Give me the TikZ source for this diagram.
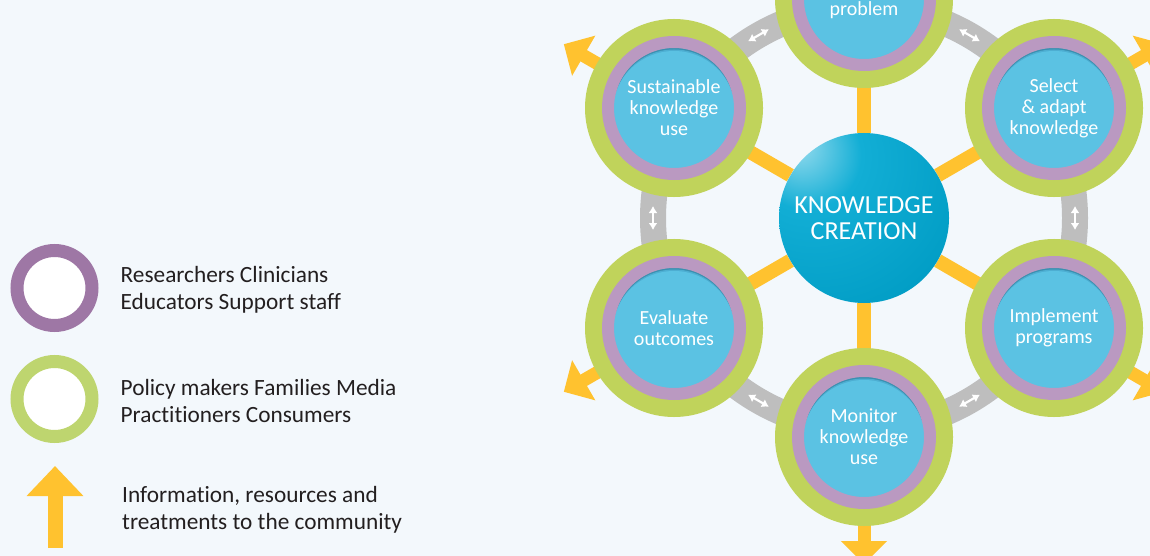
\documentclass[tikz,border=0pt]{standalone}
\usepackage{fontspec}
\setmainfont{Carlito}[Ligatures={NoCommon}]
\usetikzlibrary{calc,positioning,backgrounds,arrows.meta}
\definecolor{page}{HTML}{F3F8FC}
\definecolor{kgreen}{HTML}{C0D35B}
\definecolor{kpurple}{HTML}{BA99C1}
\definecolor{kblue}{HTML}{5BC2E3}
\definecolor{kshadow}{HTML}{3A90B0}
\definecolor{kshadowlt}{HTML}{4DAED2}
\definecolor{kyellow}{HTML}{FFC22F}
\definecolor{kgrey}{HTML}{BEBEBE}
\definecolor{lpurple}{HTML}{9E77A5}
\definecolor{lgreen}{HTML}{BED56F}
\definecolor{ltext}{HTML}{231F20}
\definecolor{kchi}{HTML}{9ADDEF}
\definecolor{kcmid}{HTML}{12AED5}
\definecolor{kclow}{HTML}{009CC4}
\definecolor{kcdark}{HTML}{006F8C}
\pgfdeclareradialshading{kcshade}{\pgfpoint{-20bp}{22bp}}{color(0bp)=(kchi); color(16bp)=(kcmid); color(45bp)=(kclow); color(75bp)=(kcdark); color(100bp)=(kcdark)}
\tikzset{
  stage/.style = {circle, minimum size = 132pt, inner sep = 0pt, fill = kblue, draw = kpurple, line width = 12pt,
    preaction = {draw = kgreen, line width = 46pt},
    path picture = {
      \fill[kshadow, draw = none] (path picture bounding box.south west) rectangle (path picture bounding box.north east);
      \fill[kshadowlt, draw = none] ([yshift=-2pt]path picture bounding box.center) circle (60.5pt);
      \fill[kblue, draw = none] ([yshift=-4.5pt]path picture bounding box.center) circle (61.5pt);
    },
    text = white, align = center, font = \fontsize{20}{21}\selectfont},
  core/.style = {circle, minimum size = 170pt, inner sep = 0pt, shading = kcshade,
    text = white, align = center, font = \fontsize{26}{26}\selectfont},
  ring/.style = {draw = kgrey, line width = 26pt},
  twoway/.style = {draw = white, line width = 2.2pt, {Latex[length=7pt,width=9pt]}-{Latex[length=7pt,width=9pt]}},
  spoke/.style = {draw = kyellow, line width = 14pt},
  outarrow/.style = {draw = kyellow, line width = 13pt, -{Triangle[width=45pt,length=23pt]}},
  legring/.style = {circle, draw = #1, line width = 13pt, fill = white, minimum size = 75pt, inner sep = 0pt},
  legarrow/.style = {draw = kyellow, line width = 15pt, -{Triangle[width=55pt,length=30pt]}},
  legtext/.style = {text = ltext, align = left, inner sep = 0pt, font = \fontsize{23.3}{27}\selectfont},
}
\begin{document}
\begin{tikzpicture}[x=1pt,y=-1pt]
  \useasboundingbox (0,0) rectangle (1150,556);
  \begin{scope}[on background layer]
    \fill[page] (0,0) rectangle (1150,556);
  \end{scope}
% cycle
  \node[core]  (kc)  at (864,218) {KNOWLEDGE\\CREATION};
  \node[stage] (prob) at (864,-1)  {\strut\\problem};
  \node[stage] (sel)  at (1054,108) {Select\\\& adapt\\knowledge};
  \node[stage] (imp)  at (1054,328) {Implement\\programs};
  \node[stage] (mon)  at (864,437) {Monitor\\knowledge\\use};
  \node[stage] (eva)  at (674,328) {Evaluate\\outcomes};
  \node[stage] (sus)  at (674,108) {Sustainable\\knowledge\\use};
  \foreach \s in {prob,sel,imp,mon,eva,sus}{
    \coordinate (\s-tip) at ($(kc)!1.58!(\s)$);
  }
  \begin{scope}[on background layer]
    \draw[ring] (kc.center) circle (211pt);
    \foreach \a in {0,60,...,300}{
      \draw[twoway] ($(kc)+({211*cos(\a)-12*sin(\a)},{-211*sin(\a)-12*cos(\a)})$)
        -- ($(kc)+({211*cos(\a)+12*sin(\a)},{-211*sin(\a)+12*cos(\a)})$);
    }
    \foreach \s in {prob,sel,imp,mon,eva,sus}{
      \draw[spoke] (kc) -- (\s);
      \draw[outarrow] (\s) -- (\s-tip);
    }
  \end{scope}
% legend
  \node[legring=lpurple] (lres) at (54.5,288) {};
  \node[legring=lgreen]  (lpol) at (54.5,399) {};
  \coordinate (lbot) at (55,548);
  \coordinate (ltop) at (55,466);
  \coordinate (linfo) at (55,510);
  \draw[legarrow] (lbot) -- (ltop);
  \node[legtext, right=22pt of lres, yshift=-2pt]  (tres)  {Researchers Clinicians\\Educators Support staff};
  \node[legtext, right=22pt of lpol, yshift=-2pt]  (tpol)  {Policy makers Families Media\\Practitioners Consumers};
  \node[legtext, right=67pt of linfo] (tinfo) {Information, resources and\\treatments to the community};
\end{tikzpicture}
\end{document}
